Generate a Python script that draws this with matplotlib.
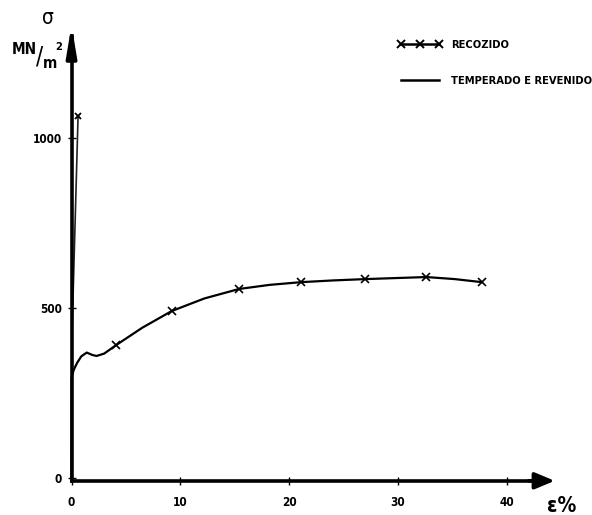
import numpy as np
import matplotlib
matplotlib.use("Agg")
import matplotlib.pyplot as plt
from matplotlib.lines import Line2D

plt.rcParams['font.family'] = ['DejaVu Sans']
plt.rcParams['font.stretch'] = 'condensed'
plt.rcParams['font.weight'] = 'bold'

# recozido (annealed) curve, strain % / stress MN/m2
rec_strain = [0, 0, 0.2, 0.5, 0.9, 1.4, 1.9, 2.3, 3.0, 4.1, 6.5, 9.2, 12.2, 15.4, 18.2, 21.1, 24.0, 27.0, 29.8, 32.6, 35.2, 37.7]
rec_stress = [0, 294, 318, 338, 358, 369, 362, 359, 366, 391, 442, 491, 528, 556, 568, 576, 581, 585, 588, 591, 585, 576]
rec_marks = [9, 11, 13, 15, 17, 19, 21]

# temperado e revenido (quenched and tempered)
tr_strain = [0, 0.05, 0.6]
tr_stress = [0, 430, 1065]

xticks = [0, 10, 20, 30, 40]
yticks = [0, 500, 1000]
labels = ['RECOZIDO', 'TEMPERADO E REVENIDO']

W, H = 592, 515
fig = plt.figure(figsize=(W / 100, H / 100), dpi=100)
ax = fig.add_axes([60 / W, 25 / H, 510 / W, 480 / H])

ax.plot(tr_strain, tr_stress, color='#222222', lw=1.2)
ax.plot(tr_strain[-1:], tr_stress[-1:], 'x', color='k', ms=5, mew=1.3)
ax.plot(rec_strain, rec_stress, color='k', lw=1.6, marker='x', ms=6, mew=1.2,
        markevery=rec_marks)

ax.set_xlim(-1.06, 45.8)
ax.set_ylim(-35, 1376)

for s in ['top', 'right']:
    ax.spines[s].set_visible(False)
ax.spines['left'].set_position(('data', 0))
ax.spines['bottom'].set_position(('data', -8))
ax.spines['left'].set_bounds(-8, 1300)
ax.spines['bottom'].set_bounds(0, 43)
ax.spines['left'].set_linewidth(2.6)
ax.spines['bottom'].set_linewidth(2.6)

ax.annotate('', xy=(44.4, -8), xytext=(42, -8),
            arrowprops=dict(arrowstyle='-|>,head_length=1.2,head_width=0.5',
                            lw=2.6, color='k', mutation_scale=10, shrinkA=0, shrinkB=0))
ax.annotate('', xy=(0, 1332), xytext=(0, 1250),
            arrowprops=dict(arrowstyle='-|>,head_length=1.8,head_width=0.3',
                            lw=2.6, color='k', mutation_scale=10, shrinkA=0, shrinkB=0))

ax.set_xticks(xticks)
ax.set_yticks(yticks)
ax.tick_params(direction='inout', length=6, width=1, labelsize=8.5)
ax.tick_params(axis='x', pad=8)
ax.tick_params(axis='y', pad=4)
for t in ax.get_xticklabels() + ax.get_yticklabels():
    t.set_fontweight('bold')
    t.set_fontstretch('condensed')

# axis labels
def ftext(x, y, s, **kw):
    fig.text(x / W, 1 - y / H, s, ha='center', va='center', **kw)

ftext(48, 18, 'σ', fontsize=15, fontweight='normal')
ftext(24, 49, 'MN', fontsize=11, fontweight='bold')
ftext(40, 57, '/', fontsize=17, fontweight='normal')
ftext(50, 63, 'm', fontsize=11, fontweight='bold')
ftext(59, 47, '2', fontsize=8, fontweight='bold')
ftext(562, 506, 'ε%', fontsize=15, fontweight='bold')

handles = [Line2D([], [], color='k', lw=1.8, marker='x', ms=6, mew=1.4),
           Line2D([], [], color='k', lw=1.8)]
fig.legend(handles, labels, loc='upper left', bbox_to_anchor=(388 / W, 1 - 30 / H),
           frameon=False, numpoints=3, handlelength=4, handletextpad=0.8,
           labelspacing=2.3, prop={'size': 8, 'weight': 'bold', 'stretch': 'condensed'})

fig.savefig('out.png', dpi=100)
